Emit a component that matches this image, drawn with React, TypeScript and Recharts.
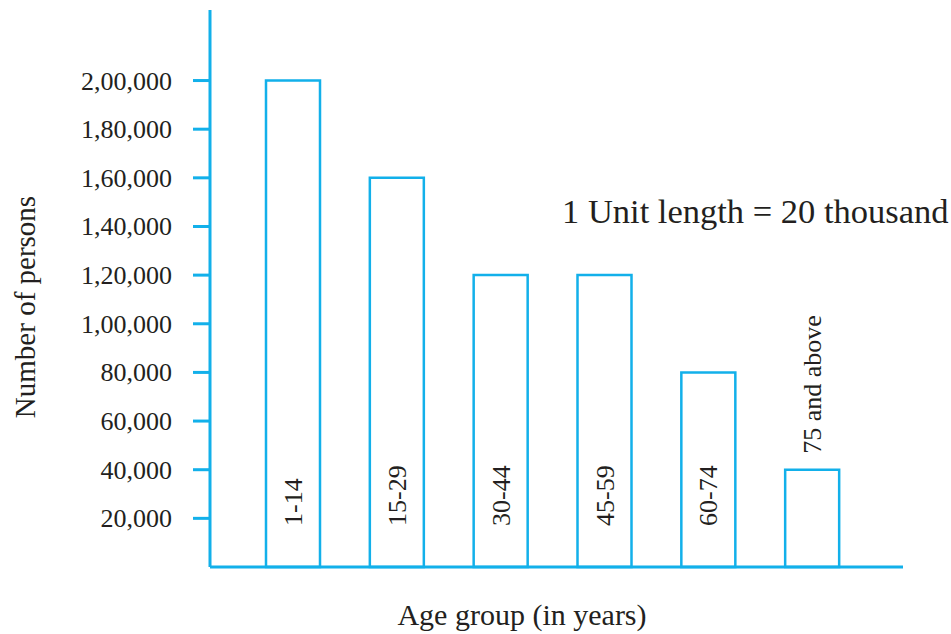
import { BarChart, Bar, XAxis, YAxis, LabelList } from "recharts";

const ageGroups = ["1-14", "15-29", "30-44", "45-59", "60-74", "75 and above"];
const persons = [200000, 160000, 120000, 120000, 80000, 40000];
const yTicks = [20000, 40000, 60000, 80000, 100000, 120000, 140000, 160000, 180000, 200000];

const data = ageGroups.map((group, i) => ({ group, persons: persons[i] }));

const CYAN = "#12b0ea";
const INK = "#231f20";
const SERIF = { fontFamily: "'Liberation Serif', 'Times New Roman', serif" };

// Indian digit grouping: 2,00,000
function indianFormat(v: number) {
  const s = String(v);
  if (s.length <= 3) return s;
  const last3 = s.slice(-3);
  const rest = s.slice(0, -3).replace(/\B(?=(\d{2})+(?!\d))/g, ",");
  return rest + "," + last3;
}

function YTick(props: any) {
  const { x, y, payload } = props;
  return (
    <text x={x} y={y} dy={9} textAnchor="end" fontSize={26} style={SERIF} fill={INK}>
      {indianFormat(payload.value)}
    </text>
  );
}

function BarName(props: any) {
  const { x, y, width, height, value } = props;
  const cx = x + width / 2 + 9;
  const len = String(value).length * 12;
  // long names on short bars go above the bar
  const inside = height > len + 50;
  const startY = inside ? y + height - 41 : y - 16;
  return (
    <text
      x={cx}
      y={startY}
      transform={`rotate(-90 ${cx} ${startY})`}
      textAnchor="start"
      fontSize={26}
      style={SERIF}
      fill={INK}
    >
      {value}
    </text>
  );
}

export default function App() {
  return (
    <div style={{ position: "absolute", left: 0, top: 0, width: 951, height: 634, background: "#fff" }}>
      <BarChart
        width={951}
        height={634}
        data={data}
        margin={{ top: 10, right: 48, bottom: 7, left: 0 }}
        barSize={54}
      >
        <XAxis
          dataKey="group"
          height={60}
          tick={false}
          tickLine={false}
          axisLine={{ stroke: CYAN, strokeWidth: 3 }}
          padding={{ left: 31, right: 39 }}
        />
        <YAxis
          width={210}
          domain={[0, 229000]}
          ticks={yTicks}
          interval={0}
          tickSize={17}
          tickMargin={21}
          tickLine={{ stroke: CYAN, strokeWidth: 3 }}
          axisLine={{ stroke: CYAN, strokeWidth: 3 }}
          tick={<YTick />}
        />
        <Bar
          dataKey="persons"
          fill="#ffffff"
          stroke={CYAN}
          strokeWidth={2.5}
          isAnimationActive={false}
        >
          <LabelList dataKey="group" content={<BarName />} />
        </Bar>
        <text x={562} y={223} fontSize={34.5} style={SERIF} fill={INK}>
          1 Unit length = 20 thousand
        </text>
        <text x={522} y={625} textAnchor="middle" fontSize={30} style={SERIF} fill={INK}>
          Age group (in years)
        </text>
        <text
          x={35}
          y={307}
          transform="rotate(-90 35 307)"
          textAnchor="middle"
          fontSize={29}
          style={SERIF}
          fill={INK}
        >
          Number of persons
        </text>
      </BarChart>
    </div>
  );
}
